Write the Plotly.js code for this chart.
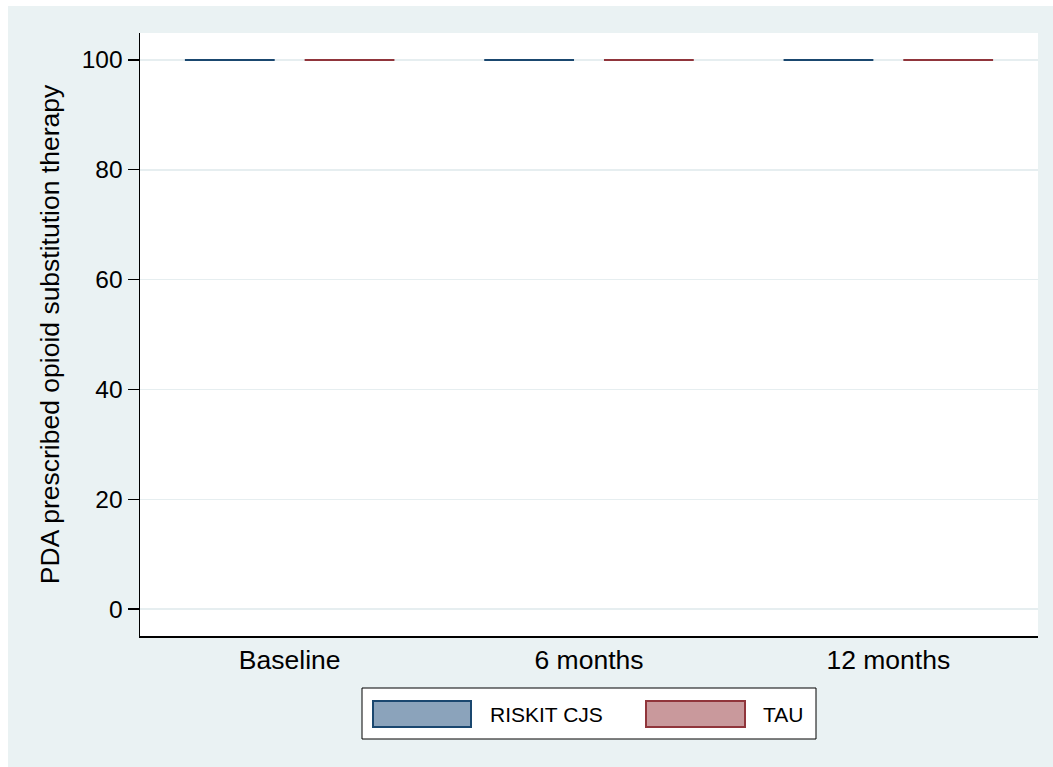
<!DOCTYPE html>
<html>
<head>
<meta charset="utf-8">
<script src="https://cdn.plot.ly/plotly-3.0.1.min.js"></script>
<style>
  html, body { margin: 0; padding: 0; background: #ffffff; width: 1053px; height: 767px; overflow: hidden; }
  #chart { position: absolute; left: 8px; top: 6px; width: 1045px; height: 761px; }
</style>
</head>
<body>
<div id="chart"></div>
<script>
// Time points
const categories = ["Baseline", "6 months", "12 months"];
// Box statistics (all observations equal 100%)
const riskitQ1 = [100, 100, 100];
const riskitMedian = [100, 100, 100];
const riskitQ3 = [100, 100, 100];
const riskitLower = [100, 100, 100];
const riskitUpper = [100, 100, 100];
const tauQ1 = [100, 100, 100];
const tauMedian = [100, 100, 100];
const tauQ3 = [100, 100, 100];
const tauLower = [100, 100, 100];
const tauUpper = [100, 100, 100];
const seriesNames = ["RISKIT CJS", "TAU"];
const yTicks = [0, 20, 40, 60, 80, 100];

const FONT = "Liberation Sans, Arial, Helvetica, sans-serif";
const blueLine = "#1a476f", blueFill = "#8ba3bb";
const redLine = "#90353b", redFill = "#c9999c";

const traces = [
  {
    type: "box", name: seriesNames[0], x: categories,
    q1: riskitQ1, median: riskitMedian, q3: riskitQ3,
    lowerfence: riskitLower, upperfence: riskitUpper,
    line: { color: blueLine, width: 2 }, fillcolor: blueFill,
    boxpoints: false, whiskerwidth: 0.5, hoverinfo: "skip"
  },
  {
    type: "box", name: seriesNames[1], x: categories,
    q1: tauQ1, median: tauMedian, q3: tauQ3,
    lowerfence: tauLower, upperfence: tauUpper,
    line: { color: redLine, width: 2 }, fillcolor: redFill,
    boxpoints: false, whiskerwidth: 0.5, hoverinfo: "skip"
  }
];

const L = 132, T = 27, PW = 898, PH = 603;
function px(xd) { return (xd - L) / PW; }
function py(yd) { return 1 - (yd - T) / PH; }

const shapes = [
  { type: "rect", xref: "paper", yref: "paper", x0: px(354), x1: px(808), y0: py(682), y1: py(733),
    fillcolor: "#ffffff", line: { color: "#000000", width: 1 } },
  { type: "rect", xref: "paper", yref: "paper", x0: px(365), x1: px(463), y0: py(695), y1: py(721),
    fillcolor: blueFill, line: { color: blueLine, width: 2 } },
  { type: "rect", xref: "paper", yref: "paper", x0: px(638), x1: px(737), y0: py(695), y1: py(721),
    fillcolor: redFill, line: { color: redLine, width: 2 } }
];
const annotations = [
  { xref: "paper", yref: "paper", x: px(480), y: py(708), xanchor: "left", yanchor: "middle",
    text: seriesNames[0], showarrow: false, font: { family: FONT, size: 21, color: "#000" } },
  { xref: "paper", yref: "paper", x: px(753), y: py(708), xanchor: "left", yanchor: "middle",
    text: seriesNames[1], showarrow: false, font: { family: FONT, size: 21, color: "#000" } }
];

const layout = {
  width: 1045, height: 761,
  margin: { l: L, r: 1045 - L - PW, t: T, b: 761 - T - PH, pad: 0 },
  paper_bgcolor: "#eaf2f3", plot_bgcolor: "#ffffff",
  font: { family: FONT, size: 24, color: "#000000" },
  showlegend: false,
  boxmode: "group", boxgap: 0.2, boxgroupgap: 0.25,
  xaxis: {
    type: "category", range: [-0.5, 2.5], showgrid: false, zeroline: false,
    showline: true, linecolor: "#000000", linewidth: 1.5, ticks: "",
    tickfont: { family: FONT, size: 26.5 }, fixedrange: true
  },
  yaxis: {
    range: [-4.9, 104.9], tickvals: yTicks, ticktext: yTicks.map(String),
    showgrid: true, gridcolor: "#e6eef0", gridwidth: 1.5, zeroline: false,
    showline: true, linecolor: "#000000", linewidth: 1.5,
    ticks: "outside", ticklen: 11, tickwidth: 1.2, tickcolor: "#000000",
    tickfont: { family: FONT, size: 24.5 },
    title: { text: "PDA prescribed opioid substitution therapy", font: { family: FONT, size: 26.5 }, standoff: 14 },
    automargin: false, fixedrange: true
  },
  shapes: shapes, annotations: annotations
};

Plotly.newPlot("chart", traces, layout, { displayModeBar: false, staticPlot: true });
</script>
</body>
</html>
